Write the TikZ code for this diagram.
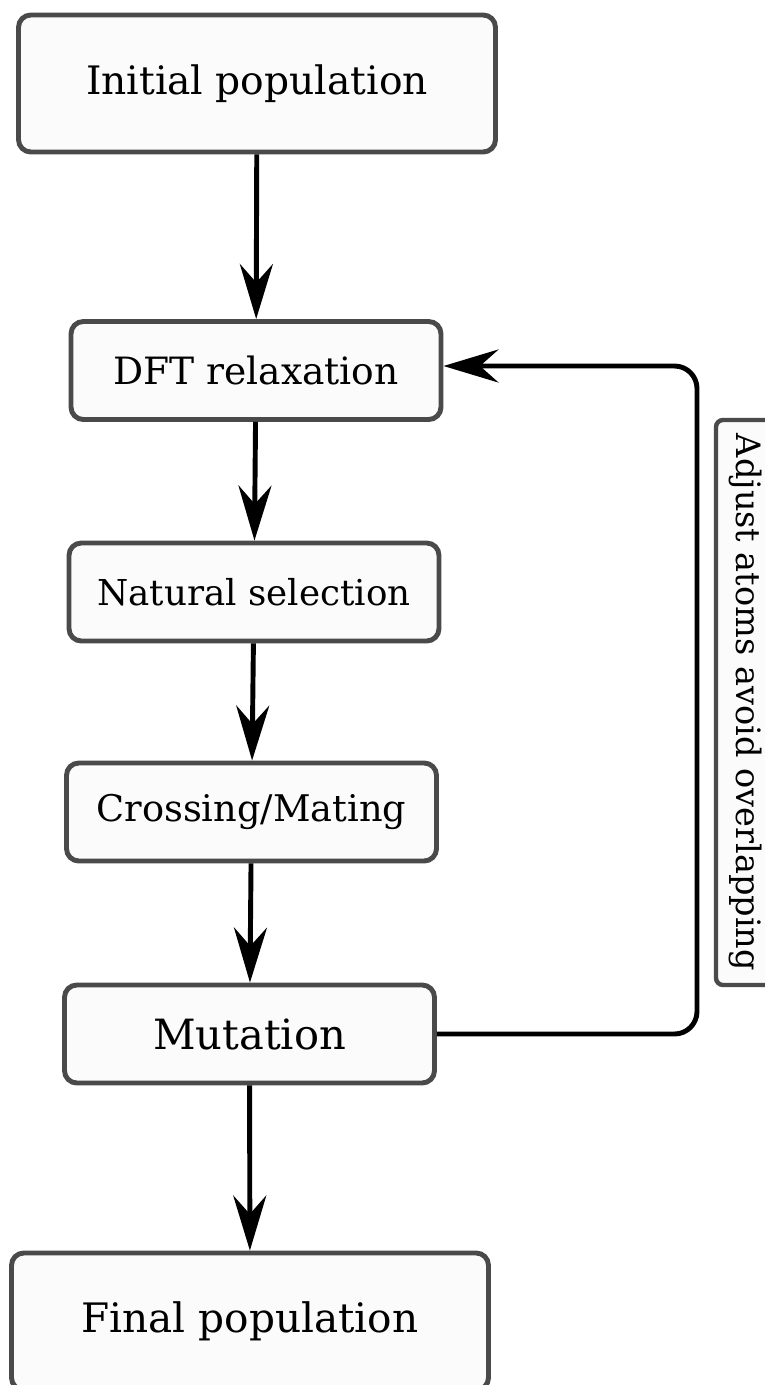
\documentclass[tikz,border=0pt]{standalone}
\usepackage{fontspec}
\setmainfont{DejaVu Serif}
\usetikzlibrary{arrows.meta, positioning}

\definecolor{boxedge}{HTML}{4A4A4A}
\definecolor{boxfill}{HTML}{FBFBFB}

\tikzset{
    stage/.style={draw=boxedge, fill=boxfill, line width=2.8pt, rounded corners=7pt,
        minimum width=7.4cm, minimum height=1.96cm, inner sep=0pt},
    endstage/.style={stage, minimum width=9.54cm, minimum height=2.74cm},
    flow/.style={line width=2.8pt, -{Stealth[length=1.1cm, width=0.66cm, inset=0.37cm]}},
    sidenote/.style={draw=boxedge, fill=boxfill, line width=2.5pt, rounded corners=4pt,
        rotate=-90, minimum width=11.3cm, minimum height=1.2cm, inner sep=0pt,
        font=\fontsize{19.1}{22}\selectfont},
}

\begin{document}
\begin{tikzpicture}
\useasboundingbox (0,0) rectangle (15.3,-27.7);

% start and end of the run
\node[endstage, font=\fontsize{22.3}{26}\selectfont] (init) at (5.14,-1.67) {Initial population};
\node[endstage, font=\fontsize{23.1}{26}\selectfont] (final) at (5.0,-26.43) {Final population};

% one generation
\foreach \nm/\x/\y/\fs/\txt in {dft/5.12/-7.41/21.4/DFT relaxation,
                                natsel/5.08/-11.84/20.3/Natural selection,
                                cross/5.03/-16.24/20.9/{Crossing/Mating},
                                mut/4.99/-20.68/23.7/Mutation} {
    \node[stage, font=\fontsize{\fs}{24}\selectfont] (\nm) at (\x,\y) {\txt};
}

\foreach \a/\b in {init/dft, dft/natsel, natsel/cross, cross/mut, mut/final} {
    \draw[flow] (\a) -- (\b);
}

% back to the relaxation
\coordinate (turn) at (13.94,-7.32);
\draw[flow, rounded corners=0.45cm] (mut.east) -| (turn) -- (turn -| dft.east);
\node[sidenote] (adjust) at (14.92,-14.05) {Adjust atoms avoid overlapping};
\end{tikzpicture}
\end{document}
